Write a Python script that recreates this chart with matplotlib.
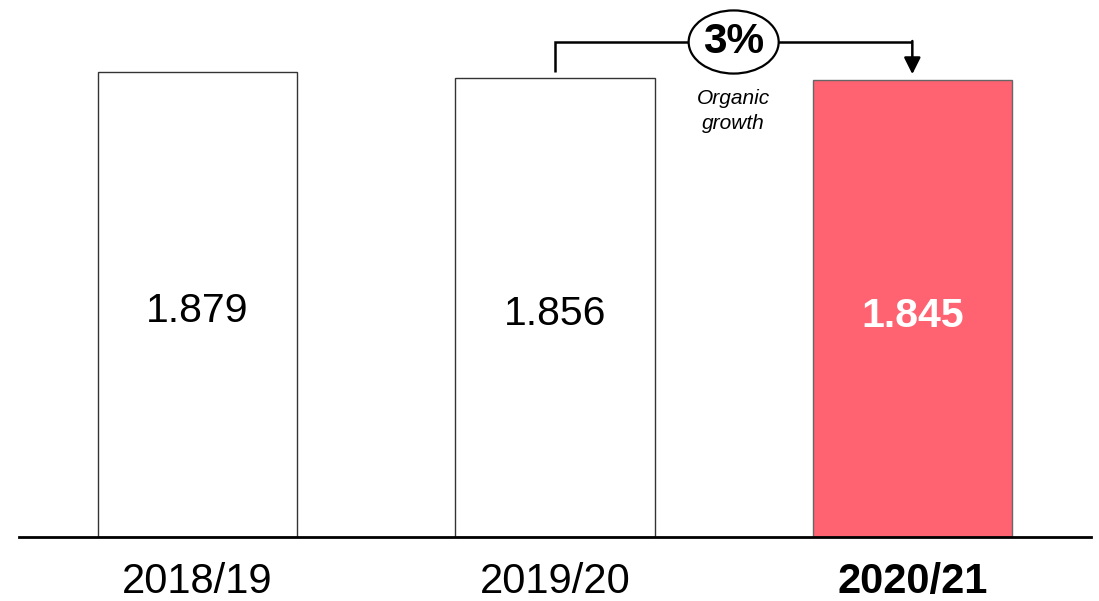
import matplotlib
matplotlib.use("Agg")
import matplotlib.pyplot as plt
from matplotlib.patches import Ellipse

plt.rcParams['font.family'] = ['Liberation Sans', 'DejaVu Sans']

years = ["2018/19", "2019/20", "2020/21"]
values = [1.879, 1.856, 1.845]
value_labels = ["1.879", "1.856", "1.845"]
growth_label = "3%"
growth_caption = "Organic\ngrowth"

fig = plt.figure(figsize=(10.99, 6.01), dpi=100)
ax = fig.add_axes([19 / 1099, 64 / 601, 1072 / 1099, 537 / 601])

x = list(range(len(years)))
faces = ["white", "white", "#FF6371"]
edges = ["#333333", "#333333", "#666666"]
ax.bar(x, values, width=0.557, color=faces, edgecolor=edges, linewidth=1.0, zorder=2)

for i, (v, lab) in enumerate(zip(values, value_labels)):
    last = i == len(values) - 1
    ax.annotate(lab, (i, v / 2), xytext=(0, -5), textcoords="offset points",
                ha="center", va="center", fontsize=29.5,
                color="white" if last else "black",
                fontweight="bold" if last else "normal", zorder=3)

ax.set_xlim(-0.5, 2.5)
ax.set_ylim(0, 537 / 247.5)

for s in ["top", "right", "left"]:
    ax.spines[s].set_visible(False)
ax.spines["bottom"].set_linewidth(2)
ax.spines["bottom"].set_zorder(4)
ax.set_yticks([])
ax.set_xticks(x)
ax.set_xticklabels(years, fontsize=30)
ax.get_xticklabels()[-1].set_fontweight("bold")
ax.tick_params(axis="x", length=0, pad=18)

# bracket from 2019/20 to 2020/21 with growth bubble
top = 2.0
ax.plot([1, 1, 2], [1.88, top, top], color="black", lw=1.8, zorder=3,
        solid_capstyle="butt", solid_joinstyle="miter")
ax.annotate("", xy=(2, 1.87), xytext=(2, top + 0.004),
            arrowprops=dict(arrowstyle="-|>,head_length=1.0,head_width=0.5",
                            color="black", lw=1.8, shrinkA=0, shrinkB=0),
            zorder=3)
ax.add_patch(Ellipse((1.5, 2.0), 0.252, 0.255, facecolor="white",
                     edgecolor="black", lw=1.6, zorder=4))
ax.text(1.5, 2.0, growth_label, ha="center", va="center", fontsize=30.5,
        fontweight="bold", zorder=5)
ax.text(1.5, 1.72, growth_caption, ha="center", va="center", fontsize=15,
        fontstyle="italic", linespacing=1.4, zorder=5)

fig.savefig("out.png", dpi=100)
